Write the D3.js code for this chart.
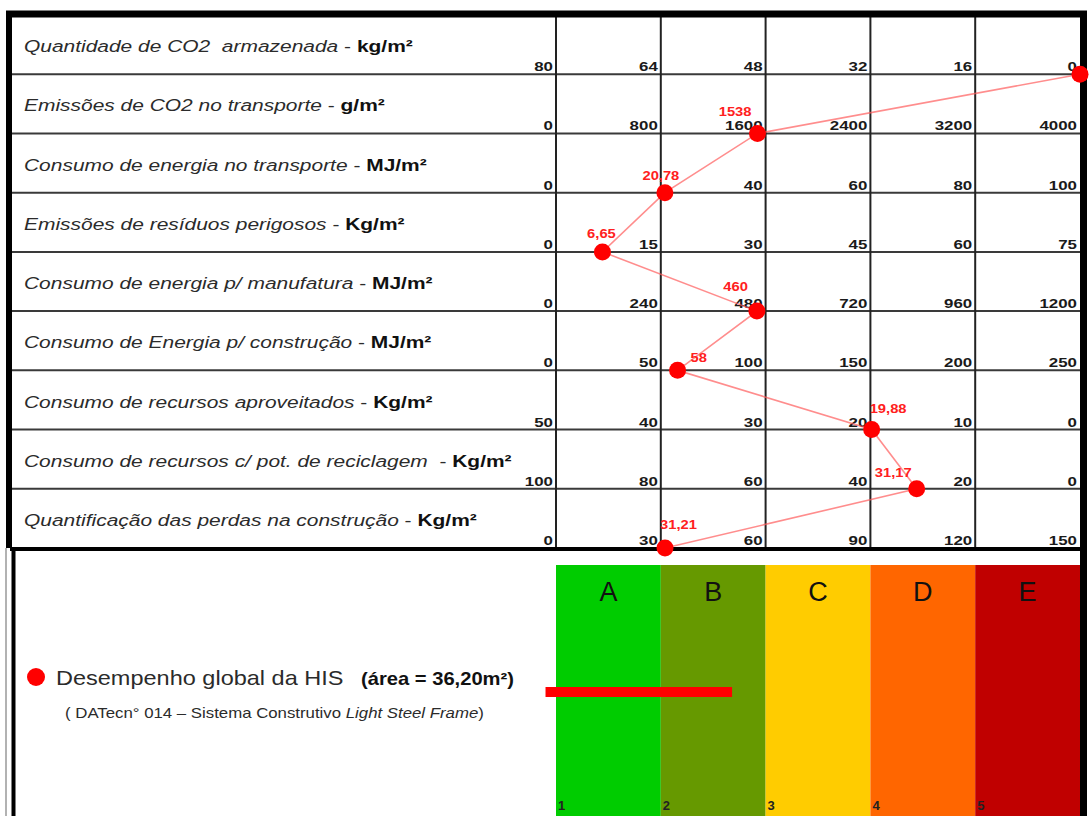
<!DOCTYPE html>
<html>
<head>
<meta charset="utf-8">
<script src="https://cdn.jsdelivr.net/npm/d3@7"></script>
<style>
  html, body { margin: 0; padding: 0; background: #fff; }
  svg { display: block; font-family: "Liberation Sans", Arial, sans-serif; }
  text { white-space: pre; }
</style>
</head>
<body>
<svg id="chart" width="1089" height="816"></svg>
<script>
// Indicator rows (top to bottom)
const indicatorNames = [
  "Quantidade de CO2  armazenada",
  "Emissões de CO2 no transporte",
  "Consumo de energia no transporte",
  "Emissões de resíduos perigosos",
  "Consumo de energia p/ manufatura",
  "Consumo de Energia p/ construção",
  "Consumo de recursos aproveitados",
  "Consumo de recursos c/ pot. de reciclagem ",
  "Quantificação das perdas na construção"
];
const indicatorUnits = ["kg/m²", "g/m²", "MJ/m²", "Kg/m²", "MJ/m²", "MJ/m²", "Kg/m²", "Kg/m²", "Kg/m²"];

// Scale of each row: value at the left edge and value at the right edge
const rowDomains = [
  [80, 0], [0, 4000], [0, 100], [0, 75], [0, 1200],
  [0, 250], [50, 0], [100, 0], [0, 150]
];
// Tick labels printed in each row
const rowTicks = [
  [80, 64, 48, 32, 16, 0],
  [0, 800, 1600, 2400, 3200, 4000],
  [0, 40, 60, 80, 100],
  [0, 15, 30, 45, 60, 75],
  [0, 240, 480, 720, 960, 1200],
  [0, 50, 100, 150, 200, 250],
  [50, 40, 30, 20, 10, 0],
  [100, 80, 60, 40, 20, 0],
  [0, 30, 60, 90, 120, 150]
];
// Measured performance of the system for each indicator
const indicatorValues = [0, 1538, 20.78, 6.65, 460, 58, 19.88, 31.17, 31.21];
const valueLabelled = [false, true, true, true, true, true, true, true, true];

// Performance classes
const gradeLetters = ["A", "B", "C", "D", "E"];
const gradeNumbers = [1, 2, 3, 4, 5];
// Global performance bar on the 1..6 class axis (start, end)
const globalBar = [0.9, 2.68];

// ---- styling / layout ----
const gradeColors = ["#00cc00", "#669900", "#ffcc00", "#ff6600", "#c00000"];
const valueLabelPlacement = [
  null,
  { anchor: "end", dx: -6, dy: -17 },
  { anchor: "middle", dx: -4, dy: -13 },
  { anchor: "middle", dx: -1, dy: -14 },
  { anchor: "end", dx: -9, dy: -20 },
  { anchor: "start", dx: 13, dy: -8 },
  { anchor: "start", dx: -2, dy: -17 },
  { anchor: "end", dx: -5, dy: -12 },
  { anchor: "start", dx: -5, dy: -19 }
];

const svg = d3.select("#chart");
const W = 1089, H = 816;
const xLeft = 556, xRight = 1080;
const tableTop = 15, tableBottom = 548;
const labelStretch = 1.27, tickStretch = 1.3, valueStretch = 1.18;

const rowScale = d3.scaleBand().domain(d3.range(indicatorNames.length)).range([tableTop, tableBottom]).padding(0);
const rowBottom = i => rowScale(i) + rowScale.bandwidth();
const xScales = rowDomains.map(d => d3.scaleLinear().domain(d).range([xLeft, xRight]));
const gradeScale = d3.scaleLinear().domain([1, 6]).range([xLeft, xRight]);

const commaFmt = d3.formatLocale({ decimal: ",", thousands: ".", grouping: [3], currency: ["", ""] });
const fmtValue = v => Number.isInteger(v) ? commaFmt.format("d")(v) : commaFmt.format(".2f")(v);

svg.append("rect").attr("width", W).attr("height", H).attr("fill", "#fff");

// ---- class bands in the legend area ----
const bandTop = 565;
const bands = svg.append("g");
bands.selectAll("rect").data(gradeNumbers).join("rect")
  .attr("x", d => gradeScale(d)).attr("y", bandTop)
  .attr("width", d => gradeScale(d + 1) - gradeScale(d)).attr("height", H - bandTop)
  .attr("fill", (d, i) => gradeColors[i]);
bands.selectAll("text.letter").data(gradeLetters).join("text")
  .attr("class", "letter")
  .attr("x", (d, i) => (gradeScale(gradeNumbers[i]) + gradeScale(gradeNumbers[i] + 1)) / 2)
  .attr("y", 601).attr("text-anchor", "middle")
  .attr("font-size", 27).attr("fill", "#111").text(d => d);
bands.selectAll("text.num").data(gradeNumbers).join("text")
  .attr("class", "num")
  .attr("x", d => gradeScale(d) + 2).attr("y", 810)
  .attr("font-size", 13).attr("font-weight", "bold").attr("fill", "#222").text(d => d);

// global performance bar
svg.append("rect")
  .attr("x", gradeScale(globalBar[0])).attr("y", 687)
  .attr("width", gradeScale(globalBar[1]) - gradeScale(globalBar[0])).attr("height", 10)
  .attr("fill", "#ff0000");

// ---- table grid ----
const grid = svg.append("g");
grid.selectAll("line.row").data(d3.range(indicatorNames.length - 1)).join("line")
  .attr("class", "row")
  .attr("x1", 10).attr("x2", xRight)
  .attr("y1", d => rowBottom(d)).attr("y2", d => rowBottom(d))
  .attr("stroke", "#3a3a3a").attr("stroke-width", 2);
grid.selectAll("line.col").data(rowTicks[0].slice(0, -1)).join("line")
  .attr("class", "col")
  .attr("x1", d => xScales[0](d)).attr("x2", d => xScales[0](d))
  .attr("y1", tableTop).attr("y2", tableBottom)
  .attr("stroke", "#222").attr("stroke-width", 2);

// frame
svg.append("line").attr("x1", 6).attr("x2", 1087).attr("y1", 14).attr("y2", 14)
  .attr("stroke", "#000").attr("stroke-width", 7);
svg.append("line").attr("x1", 9).attr("x2", 9).attr("y1", 11).attr("y2", tableBottom)
  .attr("stroke", "#000").attr("stroke-width", 6);
svg.append("line").attr("x1", 6).attr("x2", 6).attr("y1", tableBottom).attr("y2", H)
  .attr("stroke", "#999").attr("stroke-width", 1.5);
svg.append("line").attr("x1", 1083.5).attr("x2", 1083.5).attr("y1", 11).attr("y2", H)
  .attr("stroke", "#000").attr("stroke-width", 7);
svg.append("line").attr("x1", 10).attr("x2", 1087).attr("y1", tableBottom + 1).attr("y2", tableBottom + 1)
  .attr("stroke", "#000").attr("stroke-width", 4);
svg.append("line").attr("x1", 13.5).attr("x2", 13.5).attr("y1", tableBottom).attr("y2", H)
  .attr("stroke", "#000").attr("stroke-width", 4);

// ---- row labels ----
const labels = svg.append("g").attr("fill", "#2b2b2b").attr("font-size", 16.5);
indicatorNames.forEach((name, i) => {
  const t = labels.append("text")
    .attr("transform", `translate(24,${rowBottom(i) - 22}) scale(${labelStretch},1)`);
  t.append("tspan").attr("font-style", "italic").text(name);
  t.append("tspan").text(" - ");
  t.append("tspan").attr("font-weight", "bold").attr("fill", "#111").text(indicatorUnits[i]);
});

// ---- tick labels ----
const ticks = svg.append("g").attr("font-size", 13).attr("font-weight", "bold").attr("fill", "#1a1a1a")
  .attr("text-anchor", "end");
rowTicks.forEach((tv, i) => {
  ticks.selectAll(null).data(tv).join("text")
    .attr("transform", d => `translate(${xScales[i](d) - 3},${rowBottom(i) - 3}) scale(${tickStretch},1)`)
    .text(d => d);
});

// ---- profile line and points ----
const points = indicatorValues.map((v, i) => [xScales[i](v), rowBottom(i)]);
svg.append("path")
  .attr("d", d3.line()(points))
  .attr("fill", "none").attr("stroke", "#ff5c5c").attr("stroke-opacity", 0.7).attr("stroke-width", 1.6);
svg.append("g").selectAll("circle").data(points).join("circle")
  .attr("cx", d => d[0]).attr("cy", d => d[1]).attr("r", 8.5).attr("fill", "#ff0000");

const vlabels = svg.append("g").attr("font-size", 12.5).attr("font-weight", "bold").attr("fill", "#ff2020");
indicatorValues.forEach((v, i) => {
  if (!valueLabelled[i]) return;
  const p = valueLabelPlacement[i];
  vlabels.append("text")
    .attr("text-anchor", p.anchor)
    .attr("transform", `translate(${points[i][0] + p.dx},${points[i][1] + p.dy}) scale(${valueStretch},1)`)
    .text(fmtValue(v));
});

// ---- legend ----
svg.append("circle").attr("cx", 36).attr("cy", 677).attr("r", 9).attr("fill", "#ff0000");
svg.append("text").attr("transform", "translate(56,685) scale(1.12,1)")
  .attr("font-size", 21).attr("fill", "#2b2b2b").text("Desempenho global da HIS");
svg.append("text").attr("transform", "translate(361,685) scale(1.12,1)")
  .attr("font-size", 18).attr("font-weight", "bold").attr("fill", "#111").text("(área = 36,20m²)");
const sub = svg.append("text").attr("transform", "translate(65,718) scale(1.2,1)")
  .attr("font-size", 14).attr("fill", "#2b2b2b");
sub.append("tspan").text("( DATecn° 014 – Sistema Construtivo ");
sub.append("tspan").attr("font-style", "italic").text("Light Steel Frame");
sub.append("tspan").text(")");
</script>
</body>
</html>
